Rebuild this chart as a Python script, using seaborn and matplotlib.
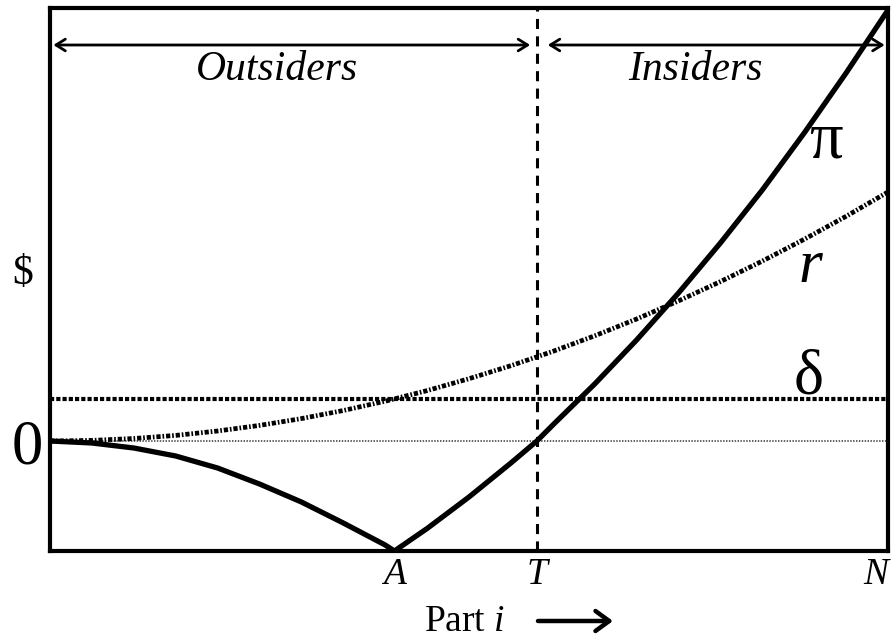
import matplotlib
matplotlib.use("Agg")
import matplotlib.pyplot as plt
import matplotlib.patches as mpatches
import seaborn as sns
import pandas as pd

# ---- data ----
pi_x = [0.0, 0.05, 0.10, 0.15, 0.20, 0.25, 0.30, 0.35, 0.40, 0.411,
        0.45, 0.50, 0.55, 0.581, 0.60, 0.65, 0.70, 0.75, 0.80, 0.85,
        0.90, 0.95, 1.0]
pi_y = [0.0, -0.02, -0.07, -0.15, -0.27, -0.43, -0.61, -0.82, -1.04, -1.10,
        -0.875, -0.56, -0.22, 0.0, 0.16, 0.57, 1.01, 1.48, 1.98, 2.51,
        3.08, 3.68, 4.31]
r_x = [0.0, 0.05, 0.10, 0.15, 0.20, 0.25, 0.30, 0.35, 0.40, 0.45, 0.50,
       0.55, 0.60, 0.65, 0.70, 0.75, 0.80, 0.85, 0.90, 0.95, 1.0]
r_y = [0.0, 0.006, 0.025, 0.056, 0.10, 0.156, 0.224, 0.305, 0.398, 0.504, 0.623,
       0.753, 0.896, 1.052, 1.22, 1.401, 1.594, 1.799, 2.017, 2.247, 2.49]
delta_level = 0.42
tick_pos = [0.411, 0.581, 1.0]
tick_labels = ["A", "T", "N"]
region_labels = ["Outsiders", "Insiders"]
curve_labels = ["π", "r", "δ"]

sns.set_theme(style="white")
plt.rcParams["font.family"] = ["Liberation Serif", "DejaVu Sans"]
plt.rcParams["mathtext.fontset"] = "custom"
plt.rcParams["mathtext.rm"] = "Liberation Serif"
plt.rcParams["mathtext.it"] = "Liberation Serif:italic"
for k in ["text.color", "axes.labelcolor", "xtick.color", "ytick.color", "axes.edgecolor"]:
    plt.rcParams[k] = "black"

fig = plt.figure(figsize=(8.91, 6.39), dpi=100)
ax = fig.add_axes([50 / 891, 1 - 551 / 639, 838 / 891, 543 / 639])
ax.set_xlim(0, 1)
ax.set_ylim(-1.10, 4.33)

pi_df = pd.DataFrame({"x": pi_x, "y": pi_y})
r_df = pd.DataFrame({"x": r_x, "y": r_y})

# zero line (thin dotted)
ax.axhline(0, color="#555555", lw=1.3, linestyle=(0, (0.8, 0.8)), zorder=1)
# delta line (thick square dots)
ax.axhline(delta_level, color="black", lw=3.0, linestyle=(0, (1.0, 0.5)), zorder=2)
# T vertical dashed
ax.axvline(tick_pos[1], color="black", lw=2.2, linestyle=(0, (3.3, 2.4)), zorder=2)

sns.lineplot(data=r_df, x="x", y="y", ax=ax, sort=False, estimator=None,
             color="black", lw=3.4, zorder=3)
ax.lines[-1].set_linestyle((0, (0.9, 0.4, 0.35, 0.4)))
sns.lineplot(data=pi_df, x="x", y="y", ax=ax, sort=False, estimator=None,
             color="black", lw=3.8, zorder=4)
ax.lines[-1].set_solid_joinstyle("miter")

for s in ax.spines.values():
    s.set_visible(True)
    s.set_color("black")
    s.set_linewidth(3.0)

# ticks
ax.set_xticks(tick_pos)
ax.set_xticklabels(tick_labels, fontsize=27, style="italic")
ax.get_xticklabels()[2].set_ha("right")
ax.set_yticks([0])
ax.set_yticklabels(["0"], fontsize=45)
ax.tick_params(axis="x", length=0, pad=5, colors="black")
ax.tick_params(axis="y", length=0, pad=5, colors="black")
ax.set_xlabel("")
ylab = ax.set_ylabel("$", fontsize=30, rotation=0, ha="center", va="center")
ylab.set_parse_math(False)
ax.yaxis.set_label_coords(-27 / 838, (551 - 274) / 543)

# region arrows and labels
arrow_y = (441 - 45) / 100
for x0, x1 in [(0.004, 0.573), (0.594, 0.996)]:
    ax.annotate("", xy=(x0, arrow_y), xytext=(x1, arrow_y),
                arrowprops=dict(arrowstyle="<->,head_length=0.45,head_width=0.28",
                                lw=2.0, color="black", shrinkA=0, shrinkB=0,
                                mutation_scale=15))
ax.text(0.271, 3.61, region_labels[0], fontsize=30, style="italic",
        ha="center", va="baseline")
ax.text(0.770, 3.61, region_labels[1], fontsize=30, style="italic",
        ha="center", va="baseline")

# curve labels
ax.text(0.926, 2.84, curve_labels[0], fontsize=48, ha="center", va="baseline")
ax.text(0.907, 1.59, curve_labels[1], fontsize=44, style="italic",
        ha="center", va="baseline")
ax.text(0.905, 0.48, curve_labels[2], fontsize=46, ha="center", va="baseline")

# x axis title with arrow
fig.text(465 / 891, 1 - 631 / 639, r"Part $\mathit{i}$", fontsize=27,
         ha="center", va="baseline")
fig.patches.append(mpatches.FancyArrowPatch(
    (538 / 891, 1 - 621 / 639), (613 / 891, 1 - 621 / 639),
    transform=fig.transFigure, arrowstyle="->,head_length=0.55,head_width=0.4",
    mutation_scale=18, lw=3.2, color="black", shrinkA=0, shrinkB=0))

fig.savefig("out.png", dpi=100)
